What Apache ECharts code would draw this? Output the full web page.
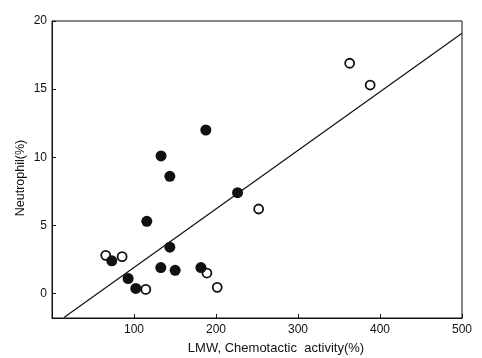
<!DOCTYPE html>
<html><head><meta charset="utf-8">
<script src="https://cdn.jsdelivr.net/npm/echarts@6/dist/echarts.min.js"></script>
<style>html,body{margin:0;padding:0;background:#fff}#c{width:482px;height:358px}</style>
</head><body><div id="c"></div>
<script>
const xTicks = [100, 200, 300, 400, 500];
const yTicks = [0, 5, 10, 15, 20];
const openPoints = [[363,16.9],[388,15.3],[252,6.2],[65.5,2.8],[85.5,2.7],[114.4,0.3],[188.9,1.5],[201.5,0.45]];
const filledPoints = [[187.6,12.0],[133,10.1],[143.7,8.6],[226.3,7.4],[115.6,5.3],[143.7,3.4],[72.9,2.4],[132.7,1.9],[150.2,1.7],[181.6,1.9],[92.8,1.1],[102.2,0.37]];
const fitLine = [[15,-1.75],[500,19.1]];
const xName = 'LMW, Chemotactic  activity(%)';
const yName = 'Neutrophil(%)';

const font = 'Liberation Sans, Arial, sans-serif';
const chart = echarts.init(document.getElementById('c'));
chart.setOption({
  animation: false,
  backgroundColor: '#fff',
  grid: {left: 52, right: 20, top: 21, bottom: 40, show: true, borderColor: '#111', borderWidth: 1},
  xAxis: {
    type: 'value', min: 0, max: 500, interval: 100,
    axisLine: {show: true, onZero: false, lineStyle: {color: '#111', width: 1}},
    axisTick: {show: true, inside: true, length: 4, customValues: xTicks, lineStyle: {color: '#111'}},
    axisLabel: {customValues: xTicks, color: '#111', fontFamily: font, fontSize: 12, margin: 6},
    splitLine: {show: false}
  },
  yAxis: {
    type: 'value', min: -1.8, max: 20,
    axisLine: {show: true, onZero: false, lineStyle: {color: '#111', width: 1}},
    axisTick: {show: true, inside: true, length: 4, customValues: yTicks, lineStyle: {color: '#111'}},
    axisLabel: {customValues: yTicks, color: '#111', fontFamily: font, fontSize: 12, margin: 5},
    splitLine: {show: false}
  },
  graphic: [
    {type: 'text', x: 276, y: 348, style: {text: xName, fill: '#111', font: '13px ' + font, textAlign: 'center', textVerticalAlign: 'middle'}},
    {type: 'text', rotation: Math.PI/2, x: 21, y: 178, style: {text: yName, fill: '#111', font: '12.5px ' + font, textAlign: 'center', textVerticalAlign: 'middle'}}
  ],
  series: [
    {type: 'line', data: fitLine, symbol: 'none', lineStyle: {color: '#111', width: 1.2}, z: 1, silent: true},
    {type: 'scatter', data: openPoints, symbol: 'circle', symbolSize: 9, itemStyle: {color: '#fff', borderColor: '#111', borderWidth: 1.8, opacity: 1}, z: 3},
    {type: 'scatter', data: filledPoints, symbol: 'circle', symbolSize: 11, itemStyle: {color: '#111', opacity: 1}, z: 3}
  ]
});
</script></body></html>
